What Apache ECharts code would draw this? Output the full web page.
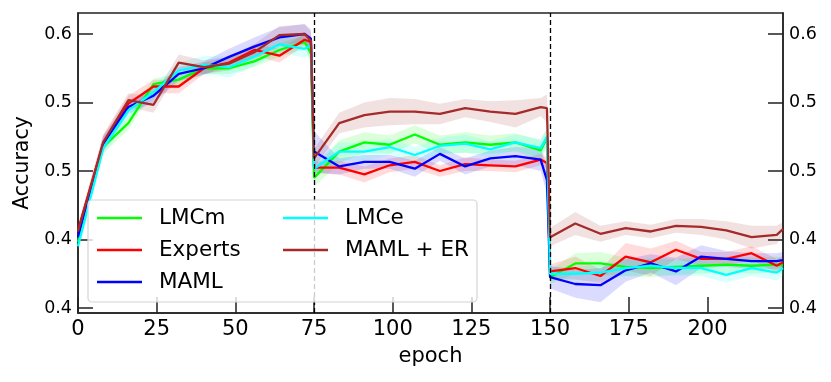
<!DOCTYPE html>
<html>
<head>
<meta charset="utf-8">
<script src="https://cdn.jsdelivr.net/npm/echarts@6/dist/echarts.min.js"></script>
<style>
  html, body { margin: 0; padding: 0; background: #fff; }
  #chart { width: 831px; height: 382px; }
</style>
</head>
<body>
<div id="chart"></div>
<script>
// epochs: three tasks of 75 epochs, sampled every 8 plus last epoch
var epochs = [0, 8, 16, 24, 32, 40, 48, 56, 64, 72, 74,
  75, 83, 91, 99, 107, 115, 123, 131, 139, 147, 149,
  150, 158, 166, 174, 182, 190, 198, 206, 214, 222, 224];

var lmcm = [0.418, 0.501, 0.522, 0.556, 0.560, 0.570, 0.570, 0.576, 0.586, 0.593, 0.583,
  0.474, 0.497, 0.505, 0.503, 0.512, 0.503, 0.505, 0.503, 0.505, 0.498, 0.509,
  0.387, 0.399, 0.399, 0.396, 0.395, 0.396, 0.397, 0.398, 0.397, 0.398, 0.397];
var lmcmSd = [0.004, 0.006, 0.006, 0.005, 0.005, 0.005, 0.005, 0.005, 0.006, 0.006, 0.006,
  0.008, 0.010, 0.009, 0.008, 0.008, 0.008, 0.009, 0.008, 0.008, 0.009, 0.008,
  0.006, 0.009, 0.010, 0.008, 0.008, 0.007, 0.007, 0.007, 0.007, 0.007, 0.007];

var experts = [0.428, 0.504, 0.539, 0.554, 0.554, 0.570, 0.575, 0.586, 0.581, 0.595, 0.593,
  0.483, 0.483, 0.477, 0.485, 0.488, 0.480, 0.486, 0.485, 0.484, 0.490, 0.487,
  0.392, 0.395, 0.388, 0.405, 0.400, 0.411, 0.403, 0.403, 0.408, 0.397, 0.400];
var expertsSd = [0.005, 0.007, 0.007, 0.006, 0.006, 0.005, 0.005, 0.005, 0.006, 0.005, 0.005,
  0.005, 0.006, 0.007, 0.006, 0.006, 0.005, 0.006, 0.005, 0.005, 0.005, 0.005,
  0.006, 0.010, 0.006, 0.012, 0.012, 0.008, 0.006, 0.006, 0.006, 0.006, 0.006];

var maml = [0.422, 0.504, 0.536, 0.546, 0.565, 0.570, 0.580, 0.589, 0.597, 0.600, 0.596,
  0.497, 0.484, 0.488, 0.488, 0.482, 0.495, 0.484, 0.491, 0.493, 0.490, 0.472,
  0.387, 0.381, 0.380, 0.393, 0.399, 0.392, 0.405, 0.403, 0.401, 0.401, 0.402];
var mamlSd = [0.005, 0.006, 0.006, 0.006, 0.006, 0.006, 0.007, 0.008, 0.009, 0.009, 0.008,
  0.018, 0.007, 0.006, 0.006, 0.007, 0.006, 0.007, 0.007, 0.008, 0.010, 0.012,
  0.010, 0.012, 0.015, 0.010, 0.008, 0.012, 0.010, 0.007, 0.007, 0.007, 0.007];

var lmce = [0.414, 0.500, 0.533, 0.549, 0.568, 0.573, 0.571, 0.580, 0.591, 0.587, 0.590,
  0.482, 0.497, 0.497, 0.501, 0.494, 0.502, 0.504, 0.499, 0.505, 0.500, 0.510,
  0.390, 0.390, 0.391, 0.395, 0.397, 0.395, 0.395, 0.389, 0.395, 0.391, 0.395];
var lmceSd = [0.004, 0.006, 0.006, 0.006, 0.007, 0.008, 0.009, 0.008, 0.007, 0.008, 0.007,
  0.006, 0.008, 0.008, 0.007, 0.007, 0.007, 0.008, 0.007, 0.007, 0.008, 0.008,
  0.006, 0.006, 0.007, 0.007, 0.007, 0.007, 0.007, 0.007, 0.007, 0.007, 0.007];

var mamlEr = [0.427, 0.505, 0.542, 0.538, 0.575, 0.571, 0.574, 0.584, 0.599, 0.600, 0.594,
  0.491, 0.522, 0.529, 0.532, 0.532, 0.530, 0.535, 0.532, 0.530, 0.536, 0.535,
  0.422, 0.434, 0.425, 0.430, 0.427, 0.432, 0.431, 0.428, 0.422, 0.424, 0.429];
var mamlErSd = [0.005, 0.007, 0.006, 0.007, 0.007, 0.006, 0.006, 0.007, 0.008, 0.008, 0.008,
  0.008, 0.009, 0.011, 0.012, 0.011, 0.009, 0.008, 0.009, 0.012, 0.008, 0.012,
  0.008, 0.010, 0.007, 0.006, 0.006, 0.006, 0.007, 0.008, 0.010, 0.008, 0.006];

var yTicks = [0.36, 0.42, 0.48, 0.54, 0.60];
var xTicks = [0, 25, 50, 75, 100, 125, 150, 175, 200];
var taskBounds = [75, 150];

var methods = [
  { name: 'LMCm', mean: lmcm, sd: lmcmSd, color: '#00ff00' },
  { name: 'Experts', mean: experts, sd: expertsSd, color: '#ff0000' },
  { name: 'MAML', mean: maml, sd: mamlSd, color: '#0000ff' },
  { name: 'LMCe', mean: lmce, sd: lmceSd, color: '#00ffff' },
  { name: 'MAML + ER', mean: mamlEr, sd: mamlErSd, color: '#a52a2a' }
];

var FONT = 'DejaVu Sans';
var series = [];
methods.forEach(function (m) {
  // shaded band (mean +/- sd) drawn as one polygon
  series.push({
    name: m.name + ' band', type: 'custom', z: 1, silent: true,
    data: epochs.map(function (e, i) { return [e, m.mean[i] - m.sd[i], m.mean[i] + m.sd[i]]; }),
    encode: { x: 0, y: [1, 2] },
    renderItem: function (params, api) {
      if (params.dataIndex !== 0) return;
      var pts = [];
      for (var i = 0; i < epochs.length; i++) pts.push(api.coord([epochs[i], m.mean[i] + m.sd[i]]));
      for (var j = epochs.length - 1; j >= 0; j--) pts.push(api.coord([epochs[j], m.mean[j] - m.sd[j]]));
      return { type: 'polygon', shape: { points: pts }, style: { fill: m.color, opacity: 0.14 } };
    }
  });
});
methods.forEach(function (m) {
  series.push({
    name: m.name, type: 'line', symbol: 'none', z: 3,
    color: m.color,
    lineStyle: { color: m.color, width: 2.3 },
    data: epochs.map(function (e, i) { return [e, m.mean[i]]; })
  });
});
// task boundaries
series[series.length - 1].markLine = {
  silent: true, symbol: 'none', label: { show: false },
  lineStyle: { color: '#000', type: [5, 3], width: 1.3 },
  data: taskBounds.map(function (b) { return { xAxis: b }; })
};

var tickStyle = { show: true, inside: true, length: 15, lineStyle: { color: '#222', width: 1.5 } };
function yAxisDef(pos) {
  return {
    type: 'value', position: pos, min: 0.3556, max: 0.6184,
    name: pos === 'left' ? 'Accuracy' : '',
    nameLocation: 'middle', nameGap: 40,
    nameTextStyle: { fontFamily: FONT, fontSize: 20.5, color: '#000' },
    axisLine: { show: true, onZero: false, lineStyle: { color: '#222', width: 1.5 } },
    axisTick: Object.assign({ customValues: yTicks }, tickStyle),
    axisLabel: {
      customValues: yTicks, fontFamily: FONT, fontSize: 17.5, color: '#000', margin: 6,
      formatter: function (v) { return v.toFixed(1); }
    },
    splitLine: { show: false }
  };
}

var legendBase = {
  orient: 'vertical', top: 207, padding: 0, z: 20,
  icon: 'rect', itemWidth: 45, itemHeight: 2.5, itemGap: 10,
  textStyle: { fontFamily: FONT, fontSize: 21.5, color: '#000', lineHeight: 22, padding: [0, 0, 0, 12] }
};

var chart = echarts.init(document.getElementById('chart'));
chart.setOption({
  animation: false,
  backgroundColor: '#fff',
  grid: { left: 78, right: 48, top: 13, bottom: 69, show: true, backgroundColor: 'transparent', borderColor: '#222', borderWidth: 1.5 },
  xAxis: {
    type: 'value', min: 0, max: 224,
    name: 'epoch', nameLocation: 'middle', nameGap: 33,
    nameTextStyle: { fontFamily: FONT, fontSize: 21, color: '#000' },
    axisLine: { show: true, onZero: false, lineStyle: { color: '#222', width: 1.5 } },
    axisTick: Object.assign({ customValues: xTicks }, tickStyle, { length: 16 }),
    axisLabel: { customValues: xTicks, fontFamily: FONT, fontSize: 21, color: '#000', margin: 6 },
    splitLine: { show: false }
  },
  yAxis: [yAxisDef('left'), yAxisDef('right')],
  graphic: [{
    type: 'rect', z: 10, silent: true,
    shape: { x: 88, y: 200, width: 389, height: 102, r: 4 },
    style: { fill: 'rgba(255,255,255,0.8)', stroke: '#d4d4d4', lineWidth: 1.2 }
  }],
  legend: [
    Object.assign({}, legendBase, { data: ['LMCm', 'Experts', 'MAML'], left: 97 }),
    Object.assign({}, legendBase, { data: ['LMCe', 'MAML + ER'], left: 283 })
  ],
  series: series
});
</script>
</body>
</html>
